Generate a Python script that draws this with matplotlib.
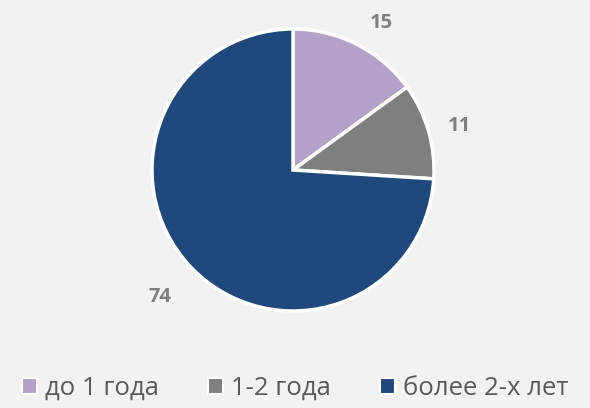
import numpy as np
import matplotlib

matplotlib.use("Agg")
import matplotlib.pyplot as plt  # noqa: E402
from matplotlib.patches import Patch  # noqa: E402

categories = ["до 1 года", "1-2 года", "более 2-х лет"]
values = [15, 11, 74]
colors = ["#B3A2C7", "#7F7F7F", "#1F497D"]
label_dist = [1.22, 1.22, 1.30]
label_shift = [-4, -1.5, 0.5]  # small angular nudges (deg) to sit like the original

plt.rcParams["font.family"] = ["Open Sans", "DejaVu Sans"]

fig = plt.figure(figsize=(5.9, 4.08), dpi=100, facecolor="#F2F2F2")
ax = fig.add_axes([152 / 590, 97 / 408, 282 / 590, 282 / 408])
ax.set_facecolor("#F2F2F2")

wedges, _ = ax.pie(values, colors=colors, startangle=90, counterclock=False,
                   radius=1.0, wedgeprops=dict(edgecolor="white", linewidth=2.5, clip_on=False))
ax.set_xlim(-1.0, 1.0)
ax.set_ylim(-1.0, 1.0)
ax.set_aspect("equal")
ax.axis("off")

for w, v, d, s in zip(wedges, values, label_dist, label_shift):
    ang = np.deg2rad((w.theta1 + w.theta2) / 2 + s)
    ax.text(d * np.cos(ang), d * np.sin(ang), str(v), ha="center", va="center",
            fontsize=14.5, fontweight="bold", color="#7F7F7F", clip_on=False)

handles = [Patch(facecolor=c, edgecolor="white", linewidth=1.5) for c in colors]
leg = fig.legend(handles, categories, loc="lower center", bbox_to_anchor=(0.5, -0.04),
                 ncol=3, frameon=False, fontsize=18.5, handlelength=0.6, handleheight=0.6,
                 handletextpad=0.3, columnspacing=1.9, labelcolor="#595959")

fig.savefig("out.png", dpi=100, facecolor=fig.get_facecolor())
